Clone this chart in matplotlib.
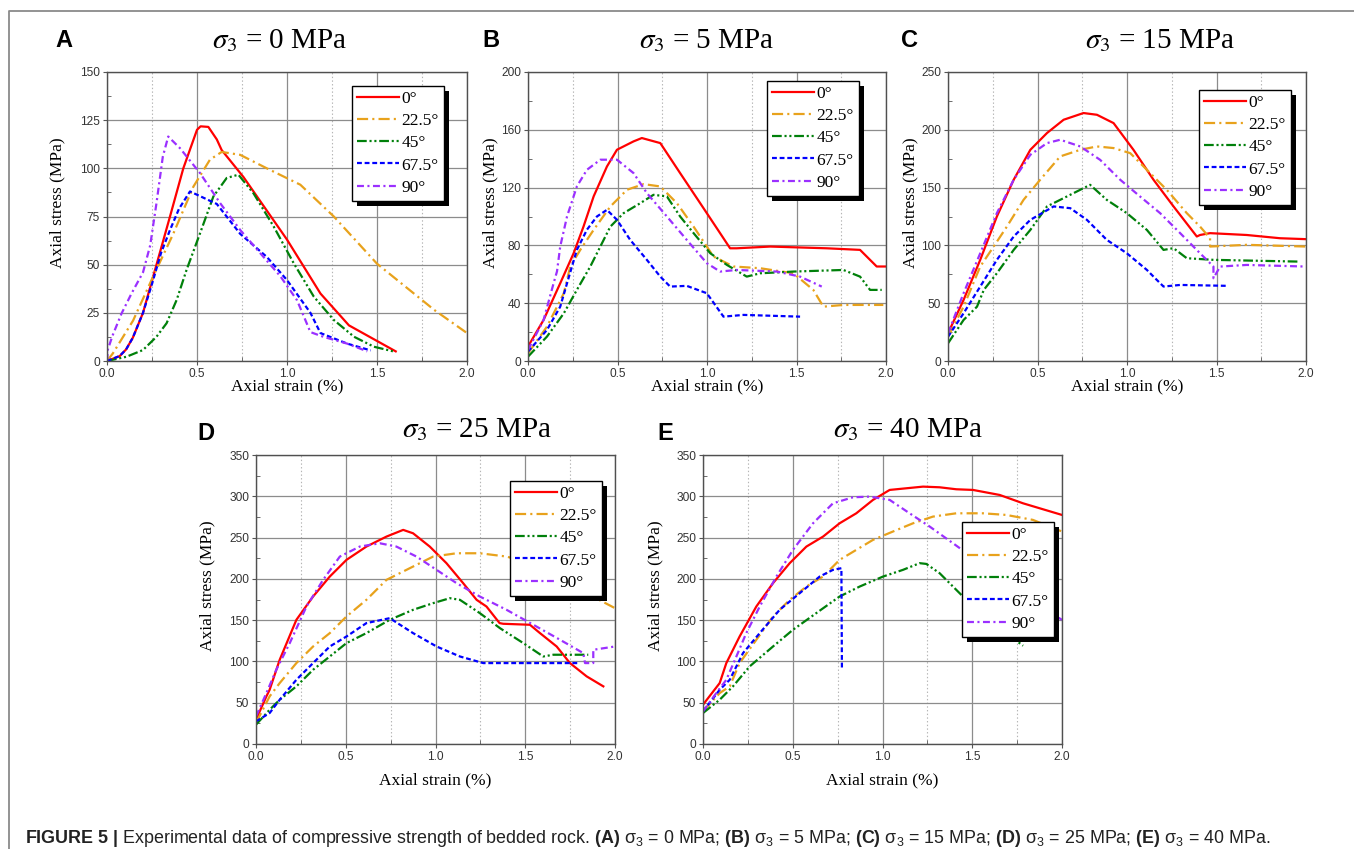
import matplotlib
matplotlib.use("Agg")
import matplotlib.pyplot as plt
import matplotlib.patheffects as pe
from matplotlib.lines import Line2D
from matplotlib.ticker import MultipleLocator

# bedding angles and curve styles
angles = ["0°", "22.5°", "45°", "67.5°", "90°"]
colors = ["#FF0000", "#E8A21C", "#00800A", "#0000FF", "#9B30FF"]
dashes = [None, (8, 3, 1.5, 3), (7, 2, 1.5, 2, 1.5, 2), (3.5, 2), (5, 2.5, 1.5, 2.5)]

# ---- panel A, sigma3 = 0 MPa : (axial strain %, axial stress MPa)
A_0 = [(0, 0), (0.07, 2.5), (0.106, 6), (0.143, 12), (0.2, 25), (0.275, 50), (0.35, 75),
       (0.424, 100), (0.5, 120), (0.52, 121.8), (0.563, 121.5), (0.61, 115), (0.637, 109.5),
       (0.758, 95.5), (1.0, 63), (1.186, 35), (1.344, 18.5), (1.604, 5)]
A_22 = [(0, 0), (0.033, 4), (0.145, 21), (0.257, 44), (0.368, 66), (0.48, 90.5), (0.572, 104.5),
        (0.637, 108.5), (0.74, 107), (0.888, 100), (1.074, 91.5), (1.26, 75), (1.5, 50.5),
        (1.818, 26.5), (2.0, 14.5)]
A_45 = [(0, 0), (0.108, 2.2), (0.2, 5.7), (0.275, 12.6), (0.331, 19.6), (0.387, 31.7), (0.442, 47.3),
        (0.517, 66.3), (0.591, 85.4), (0.665, 95), (0.73, 96.7), (0.814, 87), (0.926, 69.8),
        (1.037, 50.8), (1.149, 33.4), (1.26, 21.3), (1.372, 12.6), (1.483, 7.4), (1.595, 4.9)]
A_67 = [(0, 0), (0.07, 2.6), (0.106, 6), (0.143, 12), (0.2, 25), (0.25, 40), (0.3, 56),
        (0.35, 68), (0.4, 79), (0.461, 88), (0.61, 81.5), (0.74, 66), (0.888, 54), (1.0, 42),
        (1.13, 25), (1.186, 14.5), (1.335, 9), (1.465, 5.5)]
A_90 = [(0, 0), (0.005, 6), (0.03, 13), (0.08, 24.5), (0.136, 35), (0.2, 46), (0.24, 60),
        (0.275, 82), (0.31, 106), (0.34, 116.5), (0.405, 110.5), (0.517, 97.5), (0.628, 82),
        (0.74, 68), (0.851, 56), (0.963, 44), (1.056, 31.5), (1.13, 15), (1.204, 12.5),
        (1.335, 9), (1.446, 5)]

# ---- panel B, sigma3 = 5 MPa
B_0 = [(0, 10), (0.087, 28.4), (0.18, 53.8), (0.255, 74.6), (0.31, 93), (0.367, 114), (0.441, 134.6),
       (0.497, 146.2), (0.59, 152), (0.636, 154.3), (0.739, 150.8), (0.85, 130), (0.962, 109.2),
       (1.073, 88.5), (1.129, 78), (1.166, 78), (1.353, 79.2), (1.669, 78), (1.855, 76.9),
       (1.948, 65.4), (2.0, 65.4)]
B_22 = [(0, 5.3), (0.106, 23.8), (0.2, 46.9), (0.236, 65.4), (0.292, 76.9), (0.367, 90.8),
        (0.46, 106.9), (0.553, 118.5), (0.646, 122.4), (0.739, 120.8), (0.832, 109.2), (0.925, 93),
        (1.036, 72.3), (1.148, 65.4), (1.297, 64.2), (1.483, 60.7), (1.594, 49.2), (1.65, 37.6),
        (1.762, 38.8), (1.985, 38.8)]
B_45 = [(0, 3), (0.106, 16.9), (0.2, 33), (0.273, 49.2), (0.348, 65.4), (0.404, 79.2), (0.46, 93),
        (0.534, 102.3), (0.627, 109.2), (0.701, 115), (0.776, 113.9), (0.85, 100), (0.925, 88.5),
        (1.018, 74.6), (1.111, 66.5), (1.222, 58.4), (1.297, 60.7), (1.483, 61.9), (1.762, 63),
        (1.855, 58.4), (1.911, 49.2), (1.976, 49.2)]
B_67 = [(0, 6.5), (0.106, 21.5), (0.18, 37.6), (0.218, 53.8), (0.273, 76.9), (0.329, 90.8),
        (0.385, 100), (0.441, 104.6), (0.497, 97.7), (0.571, 83.8), (0.664, 70), (0.739, 58.4),
        (0.794, 51.5), (0.887, 52), (0.999, 46.9), (1.092, 30.7), (1.204, 31.9), (1.52, 30.7)]
B_90 = [(0, 7.6), (0.087, 28.4), (0.143, 53.8), (0.162, 62), (0.18, 79.2), (0.218, 100),
        (0.273, 120.8), (0.329, 132.3), (0.404, 139.3), (0.497, 139.3), (0.59, 130), (0.664, 116.2),
        (0.776, 100), (0.887, 83.8), (0.999, 67.7), (1.073, 61.9), (1.166, 63), (1.39, 61.9),
        (1.52, 58.4), (1.641, 51.5)]

# ---- panel C, sigma3 = 15 MPa
C_0 = [(0, 24), (0.087, 52.8), (0.18, 87.5), (0.273, 125), (0.367, 156.8), (0.46, 182.7),
       (0.553, 197.2), (0.646, 208.7), (0.757, 214.5), (0.832, 213), (0.925, 205.8), (1.036, 182.7),
       (1.148, 156.8), (1.26, 133.7), (1.39, 107.7), (1.408, 109), (1.464, 110.6), (1.669, 109),
       (1.855, 106.2), (2.0, 105.4)]
C_22 = [(0, 21), (0.087, 47), (0.18, 81.7), (0.255, 99), (0.329, 116.3), (0.422, 139.4),
        (0.515, 156.8), (0.627, 177), (0.739, 182.7), (0.832, 185.6), (0.925, 184.2), (1.018, 179.8),
        (1.111, 165.4), (1.222, 148.1), (1.334, 127.9), (1.408, 116.3), (1.464, 106.2), (1.464, 99),
        (1.669, 100.5), (2.0, 99)]
C_45 = [(0, 15.3), (0.087, 35.5), (0.162, 47), (0.2, 61.5), (0.273, 75.9), (0.367, 96.1),
        (0.46, 113.4), (0.553, 133.7), (0.664, 142.3), (0.794, 152.4), (0.887, 139.4), (0.999, 127.9),
        (1.111, 113.4), (1.204, 96.1), (1.26, 97.6), (1.334, 88.9), (1.483, 87.5), (1.957, 86)]
C_67 = [(0, 21), (0.087, 41.3), (0.18, 64.4), (0.273, 87.5), (0.367, 107.7), (0.46, 122.1),
        (0.59, 133.7), (0.683, 132.2), (0.776, 122.1), (0.887, 104.8), (0.999, 93.2), (1.111, 78.8),
        (1.148, 73), (1.204, 64.4), (1.297, 65.8), (1.566, 65)]
C_90 = [(0, 24), (0.087, 58.6), (0.18, 93.2), (0.273, 127.9), (0.367, 156.8), (0.46, 178.4),
        (0.553, 188.5), (0.627, 191.4), (0.739, 185.6), (0.85, 174), (0.962, 156.8), (1.073, 142.3),
        (1.185, 127.9), (1.297, 110.6), (1.408, 93.2), (1.483, 81.7), (1.483, 71.6), (1.52, 81.7),
        (1.669, 83.1), (2.0, 81.7)]

# ---- panel D, sigma3 = 25 MPa
D_0 = [(0, 29.4), (0.058, 57.7), (0.076, 65.7), (0.132, 102), (0.225, 150.4), (0.318, 178.6),
       (0.411, 202.8), (0.504, 223), (0.615, 239.1), (0.727, 251.2), (0.82, 259.3), (0.875, 255.2),
       (0.968, 239.1), (1.061, 219), (1.154, 194.8), (1.229, 174.6), (1.284, 166.5), (1.357, 146.4),
       (1.377, 145.6), (1.526, 144.4), (1.582, 134.3), (1.675, 118.1), (1.749, 98), (1.842, 81.9),
       (1.935, 69.8)]
D_22 = [(0, 25.4), (0.076, 57.7), (0.132, 73.8), (0.225, 98), (0.318, 118.1), (0.411, 134.3),
        (0.504, 154.4), (0.615, 174.6), (0.727, 198.8), (0.875, 214.9), (0.987, 227), (1.117, 231),
        (1.247, 231), (1.396, 227), (1.526, 219), (1.712, 202.8), (1.805, 186.7), (2.0, 164.5)]
D_45 = [(0, 23.4), (0.076, 41.5), (0.132, 53.6), (0.225, 69.8), (0.318, 89.9), (0.411, 106),
        (0.504, 122.2), (0.615, 134.3), (0.745, 150.4), (0.875, 162.5), (0.987, 170.6), (1.08, 176.6),
        (1.136, 174.6), (1.247, 158.5), (1.359, 140.3), (1.489, 122.2), (1.6, 106), (1.656, 108.1),
        (1.851, 108.1)]
D_67 = [(0, 27.4), (0.076, 37.5), (0.132, 53.6), (0.225, 77.8), (0.318, 98), (0.411, 118.1),
        (0.504, 130.2), (0.615, 146.4), (0.745, 152.4), (0.875, 134.3), (1.006, 118.1), (1.136, 106),
        (1.266, 98), (1.433, 98), (1.619, 98), (1.805, 98)]
D_90 = [(0, 33.5), (0.058, 61.7), (0.113, 89.9), (0.188, 122.2), (0.281, 166.5), (0.374, 198.8),
        (0.467, 227), (0.578, 239.1), (0.69, 243.1), (0.782, 239.1), (0.894, 227), (1.006, 210.9),
        (1.117, 194.8), (1.247, 178.6), (1.396, 162.5), (1.545, 144.4), (1.694, 126.2), (1.823, 110.1),
        (1.833, 98), (1.879, 98), (1.879, 114.1), (2.0, 118.1)]

# ---- panel E, sigma3 = 40 MPa
E_0 = [(0, 47.6), (0.093, 73.8), (0.13, 98), (0.204, 130.2), (0.297, 166.5), (0.39, 194.8),
       (0.483, 219), (0.576, 239.1), (0.669, 251.2), (0.761, 267.3), (0.854, 279.4), (0.947, 295.6),
       (1.04, 307.7), (1.133, 309.7), (1.226, 311.7), (1.318, 310.9), (1.411, 308.5), (1.504, 307.7),
       (1.653, 301.6), (1.783, 291.5), (2.0, 277.4)]
E_22 = [(0, 39.5), (0.093, 61.7), (0.149, 69.8), (0.204, 98), (0.297, 126.2), (0.39, 154.4),
        (0.483, 174.6), (0.576, 190.7), (0.669, 202.8), (0.761, 223), (0.854, 235.1), (0.947, 247.2),
        (1.058, 257.3), (1.17, 267.3), (1.281, 275.4), (1.411, 279.4), (1.56, 279.4), (1.69, 277.4),
        (1.838, 271.4), (2.0, 257.3)]
E_45 = [(0, 37.5), (0.093, 53.6), (0.167, 69.8), (0.26, 94), (0.39, 118.1), (0.501, 138.3),
        (0.631, 158.5), (0.761, 178.6), (0.873, 190.7), (1.003, 202.8), (1.114, 210.9), (1.207, 219),
        (1.244, 218.1), (1.318, 206.9), (1.411, 186.7), (1.504, 166.5), (1.597, 150.4), (1.69, 134.3),
        (1.783, 119)]
E_67 = [(0, 39.5), (0.093, 65.7), (0.149, 77.8), (0.223, 110.1), (0.316, 134.3), (0.427, 162.5),
        (0.539, 182.7), (0.65, 202.8), (0.724, 210.9), (0.771, 212.9), (0.774, 89.9)]
E_90 = [(0, 39.5), (0.074, 61.7), (0.13, 77.8), (0.186, 106), (0.241, 134.3), (0.316, 166.5),
        (0.409, 202.8), (0.501, 235.1), (0.613, 267.3), (0.724, 291.5), (0.836, 298.8), (0.929, 299.6),
        (1.04, 295.6), (1.151, 279.4), (1.263, 263.3), (1.393, 243.1), (1.597, 210.9), (1.783, 182.7),
        (1.876, 166.5), (2.0, 150.4)]

letters = ["A", "B", "C", "D", "E"]
sigma3 = [0, 5, 15, 25, 40]
ymax = [150, 200, 250, 350, 350]
ystep = [25, 40, 50, 50, 50]
curves = [[A_0, A_22, A_45, A_67, A_90], [B_0, B_22, B_45, B_67, B_90],
          [C_0, C_22, C_45, C_67, C_90], [D_0, D_22, D_45, D_67, D_90],
          [E_0, E_22, E_45, E_67, E_90]]

W, H = 1354, 849
# pixel layout: axes (left, top, right, bottom), title centre x, title baseline, letter x, legend top-left
ax_px = [(107, 72, 467, 361), (528, 72, 886, 361), (948, 72, 1306, 361),
         (256, 455, 615, 744), (703, 455, 1062, 744)]
title_px = [(280, 48), (707, 48), (1160, 48), (477, 437), (908, 437)]
letter_px = [(55, 47), (482, 47), (901, 47), (197, 440), (657, 440)]
legend_px = [(352, 86), (767, 81), (1199, 90), (510, 481), (962, 522)]
ylab_off = [50, 38, 38, 49, 48]
xlab_off = [25, 25, 25, 36, 36]

plt.rcParams["lines.scale_dashes"] = False
plt.rcParams["mathtext.fontset"] = "custom"
plt.rcParams["mathtext.rm"] = "Liberation Sans"
plt.rcParams["mathtext.it"] = "Liberation Sans:italic"
plt.rcParams["mathtext.bf"] = "Liberation Sans:bold"

fig = plt.figure(figsize=(W / 100, H / 100), dpi=100)

for i in range(5):
    l, t, r, b = ax_px[i]
    ax = fig.add_axes([l / W, 1 - b / H, (r - l) / W, (b - t) / H])
    for j in range(5):
        xs = [p[0] for p in curves[i][j]]
        ys = [p[1] for p in curves[i][j]]
        line, = ax.plot(xs, ys, color=colors[j], lw=1.6, label=angles[j])
        if dashes[j] is not None:
            line.set_dashes(dashes[j])
    ax.set_xlim(0, 2)
    ax.set_ylim(0, ymax[i])
    ax.xaxis.set_major_locator(MultipleLocator(0.5))
    ax.xaxis.set_minor_locator(MultipleLocator(0.25))
    ax.yaxis.set_major_locator(MultipleLocator(ystep[i]))
    ax.yaxis.set_minor_locator(MultipleLocator(ystep[i] / 2))
    ax.xaxis.set_major_formatter(lambda v, p: f"{v:.1f}")
    ax.grid(True, which="major", color="#8c8c8c", lw=0.9)
    ax.grid(True, which="minor", axis="x", color="#b5b5b5", lw=0.8, ls=":")
    ax.set_axisbelow(True)
    ax.tick_params(which="major", direction="out", length=3, color="#555555",
                   labelsize=8.6, labelcolor="#333333", pad=2)
    ax.tick_params(which="minor", direction="in", length=3, color="#555555")
    for lab in ax.get_xticklabels() + ax.get_yticklabels():
        lab.set_fontfamily("Liberation Sans")
    for s in ax.spines.values():
        s.set_color("#505050")
        s.set_linewidth(1.0)
    ax.set_xlabel("Axial strain (%)", fontfamily="Liberation Serif", fontsize=12.5, va="center")
    ax.set_ylabel("Axial stress (MPa)", fontfamily="Liberation Serif", fontsize=12.5, va="center")
    ax.xaxis.set_label_coords(0.5, -xlab_off[i] / (b - t))
    ax.yaxis.set_label_coords(-ylab_off[i] / (r - l), 0.5 + 14 / (b - t))

    lx, ly = legend_px[i]
    leg = ax.legend(loc="upper left", bbox_to_anchor=(lx / W, 1 - ly / H),
                    bbox_transform=fig.transFigure, borderaxespad=0,
                    prop={"family": "Liberation Serif", "size": 12.5},
                    handlelength=2.4, handletextpad=0.15, labelspacing=0.34,
                    borderpad=0.3, fancybox=False, framealpha=1, edgecolor="black")
    leg.get_frame().set_linewidth(1.0)
    leg.get_frame().set_path_effects([pe.SimplePatchShadow(offset=(3.5, -3.5),
                                                            shadow_rgbFace="black", alpha=1),
                                      pe.Normal()])

    tx, ty = title_px[i]
    fig.text(tx / W, 1 - ty / H, rf"$\sigma_3$ = {sigma3[i]} MPa", ha="center", va="baseline",
             fontfamily="Liberation Serif", fontsize=21, math_fontfamily="stix")
    px, py = letter_px[i]
    fig.text(px / W, 1 - py / H, letters[i], ha="left", va="baseline",
             fontfamily="Liberation Sans", fontweight="bold", fontsize=17)

# frame lines of the figure page
fig.add_artist(Line2D([9 / W, 9 / W, 1], [0, 1 - 11 / H, 1 - 11 / H],
                      transform=fig.transFigure, color="#8a8a8a", lw=1.3))

caption = (r"$\mathbf{FIGURE\ 5\ |}$ Experimental data of compressive strength of bedded rock. "
           + "; ".join(rf"$\mathbf{{({letters[k]})}}$ $\mathrm{{\sigma}}_3$ = {sigma3[k]} MPa"
                       for k in range(5)) + ".")
fig.text(25 / W, 1 - 843 / H, caption, ha="left", va="baseline",
         fontfamily="Liberation Sans", fontsize=12.9, color="#222222", math_fontfamily="custom")

fig.savefig("out.png", dpi=100)
